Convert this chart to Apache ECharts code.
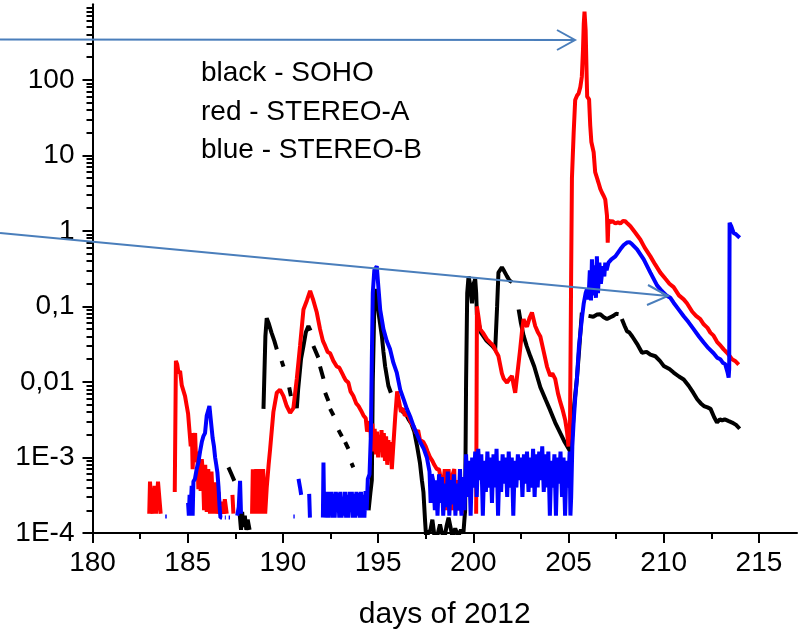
<!DOCTYPE html>
<html><head><meta charset="utf-8">
<script src="https://cdn.jsdelivr.net/npm/echarts@6/dist/echarts.min.js"></script>
<style>html,body{margin:0;padding:0;background:#fff}#c{width:801px;height:635px}</style>
</head><body><div id="c"></div>
<script>
// ---- tick positions / labels ----
const xTicks = [180,185,190,195,200,205,210,215];
const xMinorTicks = [182.5,187.5,192.5,197.5,202.5,207.5,212.5];
const yTicks = [1e-4,1e-3,1e-2,1e-1,1,10,100];
const yTickLabels = ['1E-4','1E-3','0,01','0,1','1','10','100'];
const yMinorTicks = [2e-4,3e-4,4e-4,5e-4,6e-4,7e-4,8e-4,9e-4,
  2e-3,3e-3,4e-3,5e-3,6e-3,7e-3,8e-3,9e-3,
  0.02,0.03,0.04,0.05,0.06,0.07,0.08,0.09,
  0.2,0.3,0.4,0.5,0.6,0.7,0.8,0.9,
  2,3,4,5,6,7,8,9,
  20,30,40,50,60,70,80,90,
  200,300,400,500,600,700,800,900];
const legendLines = ['black - SOHO','red - STEREO-A','blue - STEREO-B'];
const xTitle = 'days of 2012';

// ---- data: [day of 2012, value]; null = gap ----
const blackData = [
 [187.14,7.4e-4],[187.3,6e-4],[187.45,4.9e-4],[187.5,null],
 [187.72,1.9e-4],[187.8,1.1e-4],[187.86,1.9e-4],[187.92,1.2e-4],[188.0,1.7e-4],[188.08,1.1e-4],[188.15,1.5e-4],[188.25,1.1e-4],[188.3,null],
 [188.98,0.0044],[189.08,0.04],[189.15,0.07],[189.25,0.06],[189.4,0.045],[189.55,0.035],[189.68,0.027],[189.75,null],
 [189.93,0.019],[190.03,0.016],[190.08,null],
 [190.33,0.0085],[190.42,0.0065],[190.5,null],
 [190.66,0.0055],[190.73,0.0045],[190.8,0.008],[190.95,0.02],[191.08,0.030],[191.2,0.045],[191.34,0.055],[191.45,0.048],[191.52,null],
 [191.6,0.030],[191.86,0.021],[191.9,null],
 [191.95,0.016],[192.13,0.011],[192.16,null],
 [192.22,0.0072],[192.39,0.0056],[192.42,null],
 [192.48,0.0044],[192.66,0.0036],[192.7,null],
 [192.92,0.0023],[193.1,0.0019],[193.15,null],
 [193.27,0.0016],[193.44,0.0013],[193.48,null],
 [193.6,8.4e-4],[193.7,7.4e-4],[193.75,null],
 [194.5,2e-4],[194.6,3.5e-4],[194.67,5e-4],[194.72,0.01],[194.8,0.1],[194.87,0.17],[194.95,0.12],[195.02,0.083],[195.1,0.06],[195.2,0.04],[195.28,0.025],[195.37,0.016],[195.54,0.0089],[195.67,0.0072],[195.72,null],
 [196.2,0.0045],[196.3,0.004],[196.45,0.0038],[196.6,0.0032],[196.75,0.0028],[196.9,0.0022],[197.05,0.0014],[197.2,8.4e-4],[197.3,5e-4],[197.38,3.5e-4],[197.47,1.4e-4],[197.52,9e-5],
 [197.6,9.5e-5],[197.75,1.1e-4],[197.85,1.5e-4],[197.95,9.5e-5],[198.1,9e-5],[198.25,1.3e-4],[198.35,1.0e-4],[198.5,9e-5],[198.6,1.25e-4],[198.7,1.6e-4],[198.8,1.2e-4],[198.9,9e-5],[199.05,1.15e-4],[199.2,9e-5],[199.35,1.1e-4],[199.48,1.0e-4],
 [199.57,2e-4],[199.62,0.01],[199.68,0.15],[199.75,0.25],[199.82,0.2],[199.93,0.11],[200.02,0.2],[200.1,0.23],[200.15,0.15],[200.19,0.077],[200.28,0.06],[200.4,0.045],[200.7,0.035],[201.0,0.03],[201.15,0.027],[201.25,0.1],[201.32,0.28],[201.5,0.33],[201.6,0.3],[201.77,0.25],[201.9,0.22],[202.03,0.21],[202.08,null],
 [202.38,0.091],[202.5,0.06],[202.64,0.041],[202.8,0.03],[202.99,0.022],[203.2,0.016],[203.52,0.0085],[203.8,0.0058],[204.04,0.0042],[204.3,0.0029],[204.57,0.0021],[204.8,0.0016],[205.09,0.0012],
 [205.2,0.002],[205.3,0.005],[205.44,0.011],[205.55,0.025],[205.7,0.083],[205.75,null],
 [206.05,0.075],[206.14,0.074],[206.3,0.073],[206.5,0.078],[206.67,0.079],[206.85,0.072],[207.02,0.068],[207.2,0.072],[207.35,0.075],[207.5,0.08],[207.63,0.079],[207.7,null],
 [207.8,0.068],[207.95,0.055],[208.07,0.047],[208.2,0.045],[208.35,0.04],[208.6,0.032],[208.86,0.0244],[209.1,0.025],[209.3,0.023],[209.56,0.0219],[209.8,0.019],[210.0,0.0163],[210.3,0.0148],[210.52,0.0133],[210.8,0.0118],[211.05,0.0108],[211.31,0.0089],[211.55,0.0072],[211.76,0.0059],[211.95,0.0052],[212.11,0.0048],[212.3,0.0046],[212.46,0.0044],[212.65,0.0034],[212.8,0.0029],[212.95,0.0032],[213.07,0.0031],[213.2,0.0032],[213.33,0.0031],[213.45,0.0030],[213.59,0.0029],[213.8,0.0027],[213.99,0.0024]
];

const redData = [
 [182.98,1.8e-4],[183.02,4.8e-4],[183.08,2.6e-4],[183.16,1.8e-4],[183.26,4.2e-4],[183.34,1.8e-4],[183.44,4.8e-4],[183.52,4.8e-4],[183.58,1.8e-4],[183.7,null],
 [184.32,3.5e-4],[184.38,0.019],[184.45,0.017],[184.52,0.013],[184.6,0.014],[184.69,0.009],[184.78,0.0095],[184.86,0.0065],[184.95,0.0048],[185.02,0.0038],[185.09,0.0023],[185.16,0.0014],[185.22,0.0021],[185.26,7e-4],[185.32,0.0016],[185.39,0.0021],[185.44,8.7e-4],[185.5,0.0012],[185.56,3.8e-4],[185.62,9e-4],[185.68,3.6e-4],[185.74,9.5e-4],[185.8,6e-4],[185.86,2e-4],[185.92,8e-4],[186.0,1.9e-4],[186.08,7e-4],[186.17,1.8e-4],[186.25,6.5e-4],[186.35,1.8e-4],[186.45,4.7e-4],[186.53,1.8e-4],[186.62,3.5e-4],[186.7,1.8e-4],[186.78,2.6e-4],[186.87,1.8e-4],[186.95,2.8e-4],[187.05,1.8e-4],[187.15,null],
 [187.35,3.2e-4],[187.4,1.8e-4],[187.45,null],
 [188.38,1.8e-4],[188.42,7e-4],[188.5,7e-4],[188.54,1.8e-4],[188.6,7e-4],[188.68,7e-4],[188.72,1.8e-4],[188.78,7e-4],[188.86,7e-4],[188.9,1.8e-4],[188.96,7e-4],[189.02,7e-4],[189.07,1.8e-4],
 [189.15,4e-4],[189.25,8e-4],[189.33,0.0013],[189.5,0.004],[189.68,0.0072],[189.85,0.0079],[190.03,0.0065],[190.2,0.0048],[190.38,0.0039],[190.55,0.0045],[190.73,0.011],[190.9,0.030],[191.08,0.091],[191.26,0.12],[191.43,0.16],[191.6,0.12],[191.78,0.083],[191.95,0.050],[192.1,0.035],[192.22,0.030],[192.35,0.025],[192.48,0.024],[192.65,0.019],[192.83,0.016],[192.96,0.0155],[193.18,0.012],[193.3,0.0105],[193.44,0.0098],[193.55,0.0075],[193.7,0.0065],[193.85,0.0052],[193.97,0.0048],[194.1,0.0042],[194.23,0.0036],[194.35,0.0033],[194.42,0.0022],[194.5,0.0021],
 [194.58,0.0030],[194.64,0.0015],[194.7,0.0028],[194.76,0.0012],[194.82,0.0024],[194.88,0.0011],[194.94,0.0022],[195.0,0.0010],[195.06,0.0020],[195.12,0.0012],[195.18,0.0023],[195.24,0.0010],[195.3,0.0021],[195.36,0.0009],[195.42,0.0019],[195.48,0.0008],[195.54,0.0017],[195.6,0.0010],[195.66,0.0016],[195.72,0.0007],[195.78,0.0012],[195.9,0.0035],
 [196.0,0.0075],[196.1,0.0055],[196.2,0.004],[196.3,0.0045],[196.4,0.0036],[196.55,0.0038],[196.7,0.0030],[196.85,0.0026],[197.0,0.0021],[197.1,0.0023],[197.2,0.0017],[197.38,0.0016],[197.5,0.0014],[197.6,0.0012],[197.73,0.0010],[197.85,0.0009],[197.95,0.0008],[198.09,0.0007],[198.2,0.0007],[198.3,0.0005],[198.43,0.00047],[198.5,0.0007],[198.58,0.0007],[198.62,0.0002],[198.7,0.0007],[198.8,0.0007],[198.85,0.0002],[198.92,0.0006],[199.0,0.0007],[199.05,0.0002],[199.12,0.0005],[199.2,0.0002],[199.3,0.0003],[199.4,0.00018],[199.5,null],
 [200.15,1.8e-4],[200.19,0.1],[200.28,0.07],[200.36,0.05],[200.5,0.045],[200.71,0.037],[200.9,0.033],[201.06,0.030],[201.2,0.025],[201.32,0.022],[201.5,0.013],[201.6,0.011],[201.77,0.0098],[201.9,0.011],[202.03,0.012],[202.12,0.009],[202.2,0.0072],[202.3,0.012],[202.46,0.027],[202.55,0.045],[202.64,0.068],[202.74,0.058],[202.82,0.054],[202.95,0.07],[203.08,0.083],[203.25,0.055],[203.4,0.045],[203.52,0.040],[203.7,0.025],[203.87,0.016],[204.04,0.012],[204.15,0.013],[204.3,0.011],[204.45,0.007],[204.57,0.0054],[204.7,0.0042],[204.83,0.0031],[204.92,0.0022],[205.0,0.0014],[205.08,0.003],
 [205.14,0.3],[205.18,5],[205.27,19.7],[205.35,54],[205.45,62],[205.53,66],[205.62,80],[205.7,110],[205.76,250],[205.8,550],[205.84,800],[205.9,450],[205.95,120],[205.98,60],[206.08,55],[206.14,25],[206.2,15],[206.32,11],[206.4,6],[206.5,5],[206.58,4.3],[206.67,3.6],[206.76,3.2],[206.85,2.9],[206.93,2.6],[207.02,1.6],[207.06,0.7],[207.1,1.4],[207.19,1.3],[207.3,1.35],[207.46,1.25],[207.6,1.3],[207.72,1.25],[207.85,1.35],[207.98,1.34],[208.1,1.25],[208.25,1.15],[208.5,0.95],[208.77,0.77],[209.0,0.6],[209.3,0.46],[209.55,0.36],[209.82,0.28],[210.1,0.23],[210.3,0.2],[210.52,0.18],[210.8,0.14],[211.05,0.124],[211.22,0.11],[211.5,0.085],[211.7,0.075],[211.92,0.068],[212.1,0.058],[212.3,0.052],[212.45,0.045],[212.62,0.041],[212.8,0.034],[213.0,0.03],[213.15,0.027],[213.35,0.024],[213.59,0.020],[213.75,0.019],[213.94,0.017]
];

const blueData = [
 [183.82,1.65e-4],[183.9,1.65e-4],[183.95,null],
 [185.02,2.5e-4],[185.06,1.7e-4],[185.1,3.2e-4],[185.14,1.7e-4],[185.21,4.2e-4],[185.26,1.7e-4],[185.3,4.8e-4],[185.38,5.2e-4],[185.47,7e-4],[185.56,8.6e-4],[185.65,0.0012],[185.74,0.0016],[185.82,0.0019],[185.91,0.0021],[186.0,0.0036],[186.08,0.0042],[186.14,0.0048],[186.2,0.0034],[186.31,0.0018],[186.38,0.0014],[186.44,0.001],[186.5,0.0008],[186.56,6.3e-4],[186.62,4e-4],[186.67,2.3e-4],[186.72,1.6e-4],[186.8,1.6e-4],[186.85,null],
 [186.95,1.6e-4],[187.0,1.6e-4],[187.04,null],
 [187.15,1.6e-4],[187.22,1.6e-4],[187.25,null],
 [187.6,1.7e-4],[187.68,2.2e-4],[187.75,4.9e-4],[187.8,1.8e-4],[187.85,null],
 [190.55,1.65e-4],[190.62,1.65e-4],[190.66,null],
 [190.82,5.2e-4],[190.9,4e-4],[190.96,3.2e-4],[191.0,null],
 [191.38,3.3e-4],[191.42,1.6e-4],[191.46,null],
 [192.1,1.6e-4],[192.13,8.6e-4],[192.17,1.6e-4],[192.22,3.5e-4],[192.27,1.6e-4],[192.32,3.2e-4],[192.38,1.6e-4],[192.43,3.5e-4],[192.5,2.2e-4],[192.55,3.5e-4],[192.6,1.6e-4],[192.66,3.3e-4],[192.72,1.6e-4],[192.78,3.5e-4],[192.84,2e-4],[192.9,3.4e-4],[192.96,1.6e-4],[193.02,3.5e-4],[193.08,1.6e-4],[193.14,3e-4],[193.2,1.7e-4],[193.26,3.5e-4],[193.32,1.6e-4],[193.38,3.2e-4],[193.44,1.6e-4],[193.5,3.5e-4],[193.56,2e-4],[193.62,3.5e-4],[193.68,1.6e-4],[193.74,3.3e-4],[193.8,1.6e-4],[193.86,3.5e-4],[193.92,1.7e-4],[193.98,3.4e-4],[194.04,1.6e-4],[194.1,3.5e-4],[194.16,1.6e-4],[194.22,3.2e-4],[194.28,1.6e-4],[194.34,3.6e-4],[194.4,2e-4],[194.46,5.2e-4],[194.55,6e-4],
 [194.62,0.002],[194.67,0.02],[194.72,0.15],[194.8,0.3],[194.93,0.34],[195.0,0.2],[195.11,0.09],[195.28,0.05],[195.45,0.035],[195.63,0.027],[195.8,0.018],[195.98,0.0133],[196.16,0.0079],[196.35,0.0058],[196.51,0.0044],[196.7,0.0034],[196.86,0.0026],[197.05,0.002],[197.21,0.0016],[197.4,0.0013],[197.56,0.001],[197.7,6.5e-4],[197.76,2.5e-4],[197.82,6e-4],[197.91,4.7e-4],
 [197.98,2e-4],[198.05,5e-4],[198.12,1.7e-4],[198.2,6e-4],[198.28,2.5e-4],[198.35,5.5e-4],[198.42,1.7e-4],[198.5,4.5e-4],[198.58,2.2e-4],[198.66,6.5e-4],[198.74,1.7e-4],[198.82,5e-4],[198.9,2.4e-4],[198.98,6e-4],[199.06,1.7e-4],[199.14,4.5e-4],[199.22,2e-4],[199.3,7e-4],[199.38,1.7e-4],[199.46,5.5e-4],[199.54,2e-4],[199.62,0.0011],[199.7,3e-4],[199.78,9e-4],[199.86,1.7e-4],[199.94,0.0010],
 [200.02,4e-4],[200.1,0.0012],[200.18,3e-4],[200.26,0.0013],[200.34,5e-4],[200.42,0.0011],[200.5,1.7e-4],[200.58,0.0009],[200.66,3.5e-4],[200.74,0.0012],[200.82,4e-4],[200.9,0.0010],[200.98,2.5e-4],[201.06,0.0011],[201.14,4e-4],[201.22,0.0013],[201.3,1.7e-4],[201.38,0.0009],[201.46,3.5e-4],[201.54,0.0011],[201.62,4.5e-4],[201.7,0.0010],[201.78,3e-4],[201.86,0.0012],[201.94,4e-4],
 [202.02,0.0010],[202.1,1.7e-4],[202.18,0.0009],[202.26,4e-4],[202.34,0.0011],[202.42,5e-4],[202.5,0.0010],[202.58,3e-4],[202.66,0.0011],[202.74,4.5e-4],[202.82,0.0012],[202.9,3.5e-4],[202.98,0.0010],[203.06,4e-4],[203.14,0.0013],[203.22,3e-4],[203.3,0.0011],[203.38,4e-4],[203.46,0.0012],[203.54,5e-4],[203.62,0.0014],[203.7,3.5e-4],[203.78,0.0011],[203.86,4e-4],[203.94,0.0012],
 [204.02,1.7e-4],[204.1,0.0009],[204.18,4e-4],[204.26,0.0011],[204.34,1.7e-4],[204.42,0.0010],[204.5,4.5e-4],[204.58,0.0012],[204.66,3e-4],[204.74,0.0010],[204.82,1.7e-4],[204.9,0.0009],[204.98,4e-4],[205.06,0.0012],[205.1,1.7e-4],
 [205.14,3e-4],[205.2,0.0014],[205.27,0.003],[205.35,0.006],[205.44,0.011],[205.55,0.03],[205.7,0.068],[205.8,0.11],[205.9,0.15],[205.97,0.17],[206.05,0.124],[206.12,0.3],[206.18,0.12],[206.23,0.42],[206.3,0.14],[206.38,0.35],[206.44,0.13],[206.49,0.46],[206.55,0.15],[206.62,0.38],[206.7,0.2],[206.8,0.34],[206.88,0.25],[206.93,0.38],[207.0,0.3],[207.1,0.38],[207.25,0.42],[207.46,0.46],[207.72,0.57],[207.9,0.65],[208.07,0.70],[208.2,0.71],[208.33,0.67],[208.6,0.57],[208.95,0.42],[209.3,0.28],[209.65,0.19],[209.9,0.16],[210.18,0.137],[210.35,0.13],[210.52,0.112],[210.8,0.09],[211.05,0.074],[211.3,0.062],[211.57,0.050],[211.85,0.04],[212.11,0.033],[212.35,0.028],[212.62,0.024],[212.8,0.021],[212.97,0.020],[213.1,0.018],[213.23,0.0172],[213.35,0.0135],[213.41,0.0114],[213.44,0.015],[213.46,1.28],[213.55,1.15],[213.67,0.94],[213.8,0.9],[213.99,0.81]
];

function toSeries(arr){ return arr.map(p => [p[0], p[1] === null ? '-' : p[1]]); }

const FONT = 'Liberation Sans, Arial, sans-serif';
const chart = echarts.init(document.getElementById('c'), null, {renderer:'canvas'});
const axisBase = {
  axisLine:{show:true, onZero:false, lineStyle:{color:'#000', width:2}},
  splitLine:{show:false}
};
const lineSeries = (name, data, color) => ({
  name, type:'line', data: toSeries(data), xAxisIndex:0, yAxisIndex:0,
  showSymbol:false, symbol:'none', connectNulls:false, clip:true,
  lineStyle:{color, width:4}, itemStyle:{color}, animation:false
});
chart.setOption({
  backgroundColor:'#fff',
  animation:false,
  grid:{left:92.5, right:4, top:4.3, bottom:101, containLabel:false},
  xAxis:[
    Object.assign({}, axisBase, {
      type:'value', position:'bottom', min:180, max:217,
      axisTick:{show:true, customValues:xTicks, length:10, lineStyle:{color:'#000', width:2}},
      axisLabel:{customValues:xTicks, fontSize:28, fontFamily:FONT, color:'#000', margin:16},
      name:xTitle, nameLocation:'middle', nameGap:67,
      nameTextStyle:{fontSize:30, fontFamily:FONT, color:'#000'}
    }),
    {
      type:'value', position:'bottom', min:180, max:217,
      axisLine:{show:false}, splitLine:{show:false}, axisLabel:{show:false},
      axisTick:{show:true, customValues:xMinorTicks, length:6, lineStyle:{color:'#000', width:2}}
    }
  ],
  yAxis:[
    Object.assign({}, axisBase, {
      type:'log', logBase:10, position:'left', min:1e-4, max:1000,
      axisTick:{show:true, customValues:yTicks, length:10, lineStyle:{color:'#000', width:2}},
      axisLabel:{customValues:yTicks, fontSize:28, fontFamily:FONT, color:'#000', margin:18,
        formatter: v => yTickLabels[Math.round(Math.log10(v)) + 4] || ''}
    }),
    {
      type:'log', logBase:10, position:'left', min:1e-4, max:1000,
      axisLine:{show:false}, splitLine:{show:false}, axisLabel:{show:false},
      axisTick:{show:true, customValues:yMinorTicks, length:6, lineStyle:{color:'#000', width:2}}
    }
  ],
  series:[
    lineSeries('SOHO', blackData, '#000000'),
    lineSeries('STEREO-A', redData, '#ff0000'),
    lineSeries('STEREO-B', blueData, '#0000ff')
  ],
  graphic:[
    {type:'text', x:201, y:73, z:100, style:{text:legendLines[0], fontSize:28, fontFamily:FONT, fill:'#000', verticalAlign:'middle'}},
    {type:'text', x:201, y:112, z:100, style:{text:legendLines[1], fontSize:28, fontFamily:FONT, fill:'#000', verticalAlign:'middle'}},
    {type:'text', x:201, y:150, z:100, style:{text:legendLines[2], fontSize:28, fontFamily:FONT, fill:'#000', verticalAlign:'middle'}},
    {type:'line', z:100, shape:{x1:0, y1:39.5, x2:575, y2:40}, style:{stroke:'#4a7ebb', lineWidth:2}},
    {type:'polyline', z:100, shape:{points:[[557,30],[575,40],[557,50]]}, style:{stroke:'#4a7ebb', lineWidth:2, fill:null}},
    {type:'line', z:100, shape:{x1:0, y1:233, x2:668, y2:296}, style:{stroke:'#4a7ebb', lineWidth:2}},
    {type:'polyline', z:100, shape:{points:[[648,285],[668,296],[647,305]]}, style:{stroke:'#4a7ebb', lineWidth:2, fill:null}}
  ]
});
</script>
</body></html>
